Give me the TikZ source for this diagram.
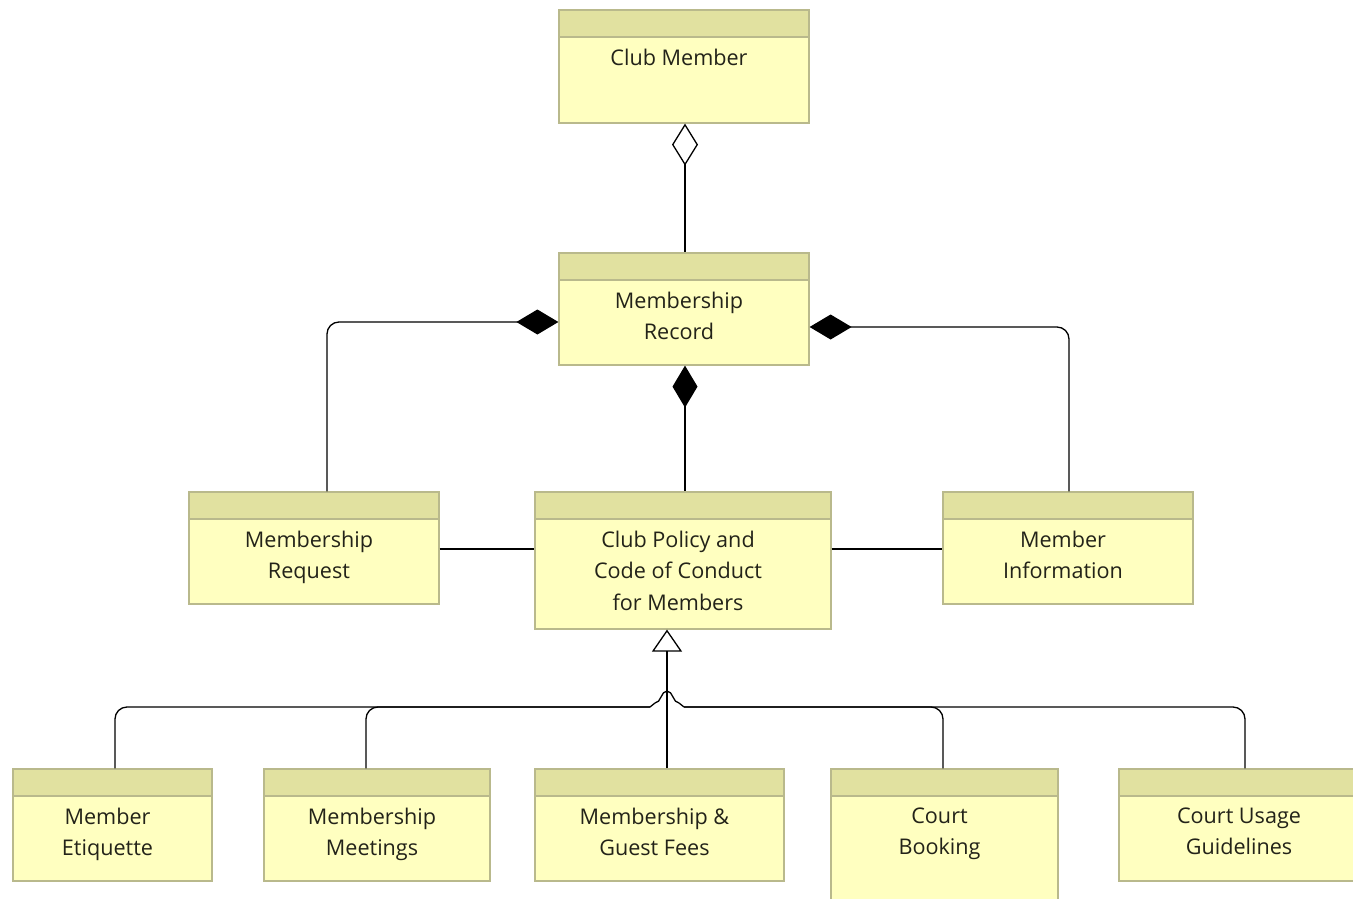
\documentclass[tikz,border=0pt]{standalone}
\usepackage{fontspec}
\setmainfont{Open Sans}
\usetikzlibrary{arrows.meta}
\definecolor{bodycol}{RGB}{255,255,192}
\definecolor{headcol}{RGB}{225,225,160}
\definecolor{bordercol}{RGB}{185,185,140}
\definecolor{inkcol}{RGB}{35,35,25}
\tikzset{
  cls/.style={draw=bordercol, line width=1.2pt, fill=bodycol, inner sep=0pt,
    path picture={
      \fill[headcol] (path picture bounding box.north west) rectangle
        ([yshift=-27pt]path picture bounding box.north east);
      \draw[bordercol, line width=1.2pt]
        ([yshift=-27pt]path picture bounding box.north west) --
        ([yshift=-27pt]path picture bounding box.north east);
    }},
  lbl/.style={anchor=north, yshift=-39pt, xshift=-5pt, inner sep=0pt,
    align=center, text=inkcol, font=\fontsize{21.6}{31.5}\selectfont},
  conn/.style={line width=1.3pt, black},
  agg/.style={conn, {Diamond[open, length=42pt, width=26pt]}-},
  comp/.style={conn, {Diamond[length=42pt, width=25pt]}-, rounded corners=12pt},
  gen/.style={conn, -{Triangle[open, length=22pt, width=30pt]}},
  branch/.style={conn, rounded corners=12pt}
}
\begin{document}
\begin{tikzpicture}[x=1pt, y=-1pt]
\useasboundingbox (0,0) rectangle (1353,899);
\clip (0,0) rectangle (1353,899);

% class boxes
\node[cls, minimum width=250pt, minimum height=113pt,
  label={[lbl]north:Club Member}] (cm) at (684,66.5) {};
\node[cls, minimum width=250pt, minimum height=112pt,
  label={[lbl]north:Membership\\Record}] (rec) at (684,309) {};
\node[cls, minimum width=250pt, minimum height=112pt,
  label={[lbl]north:Membership\\Request}] (req) at (314,548) {};
\node[cls, minimum width=296pt, minimum height=137pt,
  label={[lbl]north:Club Policy and\\Code of Conduct\\for Members}] (pol) at (683,560.5) {};
\node[cls, minimum width=250pt, minimum height=112pt,
  label={[lbl]north:Member\\Information}] (info) at (1068,548) {};
\node[cls, minimum width=199pt, minimum height=112pt,
  label={[lbl]north:Member\\Etiquette}] (etq) at (112.5,825) {};
\node[cls, minimum width=226pt, minimum height=112pt,
  label={[lbl]north:Membership\\Meetings}] (meet) at (377,825) {};
\node[cls, minimum width=249pt, minimum height=112pt,
  label={[lbl]north:Membership \&\\Guest Fees}] (fees) at (659.5,825) {};
\node[cls, minimum width=227pt, minimum height=140pt,
  label={[lbl]north:Court\\Booking}] (book) at (944.5,839) {};
\node[cls, minimum width=250pt, minimum height=112pt,
  label={[lbl]north:Court Usage\\Guidelines}] (usage) at (1244,825) {};

% aggregation and compositions
\draw[agg] ([xshift=1pt]cm.south) -- ([xshift=1pt]rec.north);
\draw[comp] ([yshift=-13pt]rec.west) -| ([xshift=13pt]req.north);
\draw[comp] ([yshift=-18pt]rec.east) -| ([xshift=1pt]info.north);
\draw[comp] ([xshift=1pt]rec.south) -- ([xshift=1pt]rec.south |- pol.north);

% plain associations
\draw[conn] ([yshift=-1pt]req.east) -- ([yshift=-1pt]req.east -| pol.west);
\draw[conn] ([yshift=-1pt]pol.east |- info.west) -- ([yshift=-1pt]info.west);

% generalization tree with a line hop
\coordinate (hopL) at (650,707);
\coordinate (hopR) at (684,707);
\draw[gen] ([xshift=7.5pt]fees.north) -- ([xshift=7.5pt]fees.north |- pol.south);
\draw[branch] ([xshift=2.5pt]etq.north) |- (hopL);
\draw[branch] ([xshift=-11pt]meet.north) |- (hopL);
\draw[branch] ([xshift=1pt]usage.north) |- (hopR);
\draw[branch] ([xshift=-1.5pt]book.north) |- (hopR);
\draw[conn] (hopL) -- ++(5,-4) .. controls (661,703) and (661,691) .. (667,691)
  .. controls (673,691) and (673,703) .. (679,703) -- (hopR);
\end{tikzpicture}
\end{document}
